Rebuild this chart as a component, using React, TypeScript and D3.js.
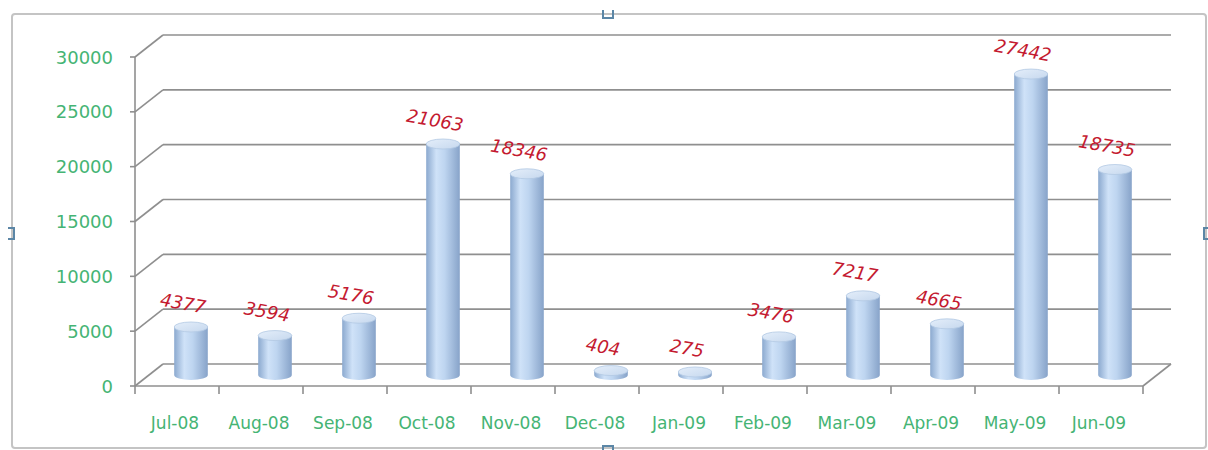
import React from 'react';
import * as d3 from 'd3';

const months = ['Jul-08', 'Aug-08', 'Sep-08', 'Oct-08', 'Nov-08', 'Dec-08', 'Jan-09', 'Feb-09', 'Mar-09', 'Apr-09', 'May-09', 'Jun-09'];
const values = [4377, 3594, 5176, 21063, 18346, 404, 275, 3476, 7217, 4665, 27442, 18735];
const yTicks = [0, 5000, 10000, 15000, 20000, 25000, 30000];

const W = 1208;
const H = 450;
// front plane of the 3d box, and the depth shift to the back wall
const left = 135;
const right = 1143;
const floorY = 386;
const topY = 57;
const dx = 28;
const dy = -22;

const gridColor = '#8f8f8f';
const green = '#45b474';
const red = '#c41a30';

const App: React.FC = () => {
  const x = d3.scaleBand<string>().domain(months).range([left, right]);
  const y = d3.scaleLinear().domain([0, 30000]).range([floorY, topY]);
  const bw = x.bandwidth();
  const r = bw * 0.2;
  const ry = 5;

  return (
    <svg width={W} height={H} style={{ position: 'absolute', left: 0, top: 0, background: '#fff' }}>
      <defs>
        <linearGradient id="cyl" x1="0" x2="1" y1="0" y2="0">
          <stop offset="0%" stopColor="#8ba9cf" />
          <stop offset="30%" stopColor="#cfe2f8" />
          <stop offset="55%" stopColor="#bed5f0" />
          <stop offset="100%" stopColor="#87a3c9" />
        </linearGradient>
        <linearGradient id="cylTop" x1="0" x2="1" y1="0" y2="1">
          <stop offset="0%" stopColor="#e4eefa" />
          <stop offset="100%" stopColor="#c6d8ee" />
        </linearGradient>
      </defs>

      {/* outer frame */}
      <rect x={12} y={14} width={1194} height={434} fill="none" stroke="#c4c4c4" strokeWidth={2} rx={3} />
      <g fill="none" stroke="#5b86a6" strokeWidth={2}>
        <path d="M603,10 L603,18 L613,18 L613,10" />
        <path d="M8,228 L14,228 L14,239 L8,239" />
        <path d="M1210,228 L1204,228 L1204,239 L1210,239" />
        <path d="M603,453 L603,446 L613,446 L613,453" />
      </g>

      {/* back wall gridlines + side wall diagonals */}
      <g stroke={gridColor} strokeWidth={1.6} fill="none">
        {yTicks.map(t => (
          <g key={t}>
            <line x1={left + dx} x2={right + dx} y1={y(t) + dy} y2={y(t) + dy} />
            <line x1={left} x2={left + dx} y1={y(t)} y2={y(t) + dy} />
            <line x1={left - 5} x2={left} y1={y(t)} y2={y(t)} />
          </g>
        ))}
        <line x1={left} x2={left} y1={topY} y2={floorY} />
        <line x1={left} x2={right} y1={floorY} y2={floorY} />
        <line x1={right} x2={right + dx} y1={floorY} y2={floorY + dy} />
        {months.map(m => (
          <line key={m} x1={x(m)!} x2={x(m)!} y1={floorY} y2={floorY + 8} />
        ))}
        <line x1={right} x2={right} y1={floorY} y2={floorY + 8} />
      </g>

      {/* y labels */}
      <g fontFamily="DejaVu Sans, sans-serif" fontSize={18} fill={green} textAnchor="end">
        {yTicks.map(t => (
          <text key={t} x={113} y={y(t)} dominantBaseline="central">{t}</text>
        ))}
      </g>

      {/* x labels */}
      <g fontFamily="DejaVu Sans, sans-serif" fontSize={17} fill={green} textAnchor="middle">
        {months.map(m => (
          <text key={m} x={x(m)! + bw / 2 - 2} y={429}>{m}</text>
        ))}
      </g>

      {/* cylinders at mid depth */}
      {months.map((m, i) => {
        const cx = x(m)! + bw / 2 + dx / 2;
        const base = floorY + dy / 2;
        const top = y(values[i]) + dy / 2;
        const body = `M${cx - r},${top} L${cx - r},${base} A${r},${ry} 0 0 0 ${cx + r},${base} L${cx + r},${top} Z`;
        return (
          <g key={m}>
            <path d={body} fill="url(#cyl)" />
            <ellipse cx={cx} cy={top} rx={r} ry={ry} fill="url(#cylTop)" stroke="#b3c9e3" strokeWidth={0.8} />
            <text
              transform={`translate(${cx - 8},${top - 24}) rotate(10)`}
              textAnchor="middle"
              dominantBaseline="central"
              fontFamily="DejaVu Sans, sans-serif"
              fontStyle="italic"
              fontSize={18}
              fill={red}
            >
              {values[i]}
            </text>
          </g>
        );
      })}
    </svg>
  );
};

export default App;
